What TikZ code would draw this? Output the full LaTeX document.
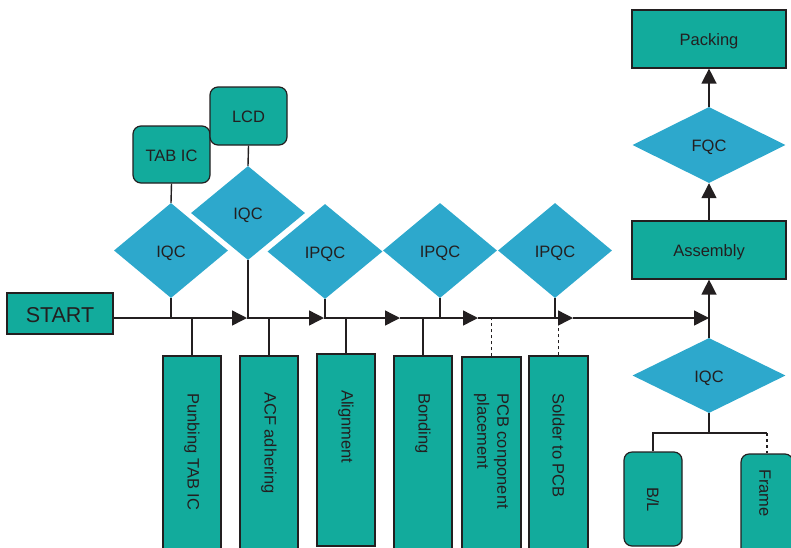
\documentclass[tikz,border=0pt]{standalone}
\usepackage{fontspec}
\setmainfont{Liberation Sans}
\usetikzlibrary{shapes.geometric,arrows.meta}
\definecolor{teal1}{RGB}{18,171,156}
\definecolor{dblue}{RGB}{45,168,204}
\definecolor{ink}{RGB}{35,31,32}
\begin{document}
\begin{tikzpicture}[x=1pt,y=-1pt,
  box/.style={draw=ink, line width=1.2pt, fill=teal1, inner sep=0pt, text=ink, font=\fontsize{16.5}{20}\selectfont, text height=13.6pt, text depth=0pt},
  rbox/.style={box, rounded corners=8pt},
  dia/.style={diamond, fill=dblue, inner sep=0pt, text=ink, font=\fontsize{16.5}{20}\selectfont, text height=13.6pt, text depth=0pt},
  ln/.style={draw=ink, line width=1.4pt},
  arr/.style={ln, -{Triangle[length=15pt,width=15pt]}},
  dsh/.style={ln, dash pattern=on 3pt off 3pt},
  vtxt/.style={rotate=-90, anchor=west, inner sep=0pt, text=ink, align=left, font=\fontsize{16.5}{20}\selectfont}
]
\useasboundingbox (0,0) rectangle (791,547);
\clip (0,0) rectangle (791,547);

% start
\node[box, minimum width=106pt, minimum height=41pt, font=\fontsize{21.5}{24}\selectfont, text height=18.4pt] (start) at (60,313.5) {START};

% top inputs
\node[rbox, minimum width=77pt, minimum height=57pt] (tabic) at (171.5,154.5) {TAB IC};
\node[rbox, minimum width=77pt, minimum height=58pt] (lcd) at (248.5,116) {LCD};

% diamonds
\node[dia, minimum width=114pt, minimum height=95pt] (iqc1) at (171,250.5) {IQC};
\node[dia, minimum width=114pt, minimum height=94pt] (iqc2) at (248,213) {IQC};
\node[dia, minimum width=115pt, minimum height=95pt] (ipqc1) at (325,251.5) {IPQC};
\node[dia, minimum width=114pt, minimum height=95pt] (ipqc2) at (440,250.5) {IPQC};
\node[dia, minimum width=114pt, minimum height=95pt] (ipqc3) at (555,250.5) {IPQC};

% right column
\node[box, minimum width=154pt, minimum height=58pt] (pack) at (709,39) {Packing};
\node[dia, minimum width=153pt, minimum height=76pt] (fqc) at (709,145) {FQC};
\node[box, minimum width=154pt, minimum height=58pt] (asm) at (709,250) {Assembly};
\node[dia, minimum width=153pt, minimum height=75pt] (iqcb) at (709,375.5) {IQC};

% bottom process boxes
\node[box, minimum width=58pt, minimum height=204pt] (p1) at (192,458) {};
\node[box, minimum width=58pt, minimum height=204pt] (p2) at (269,458) {};
\node[box, minimum width=58pt, minimum height=192pt] (p3) at (346,450) {};
\node[box, minimum width=58pt, minimum height=204pt] (p4) at (423,458) {};
\node[box, minimum width=59pt, minimum height=203pt] (p5) at (491.5,458.5) {};
\node[box, minimum width=59pt, minimum height=204pt] (p6) at (558.5,458) {};
\node[vtxt] (t1) at (192,393) {Punbing TAB IC};
\node[vtxt] (t2) at (269,392) {ACF adhering};
\node[vtxt] (t3) at (346,390) {Alignment};
\node[vtxt] (t4) at (423,393) {Bonding};
\node[vtxt] (t5) at (491.5,393) {PCB conponent\\placement};
\node[vtxt] (t6) at (558.5,393) {Solder to PCB};

% B/L and Frame
\node[rbox, minimum width=58pt, minimum height=94pt] (bl) at (653,499) {};
\node[rbox, minimum width=52pt, minimum height=106pt] (frame) at (767,507) {};
\node[vtxt] (tbl) at (653,487) {B/L};
\node[vtxt] (tfr) at (765,469) {Frame};

% main line coordinates
\coordinate (a1) at (247,318);
\coordinate (a2) at (324,318);
\coordinate (a3) at (400,318);
\coordinate (a4) at (478,318);
\coordinate (a5) at (573,318);
\coordinate (a6) at (709,318);

% connectors above
\draw[ln] (tabic.south) -- (iqc1.north);
\draw[ln] (lcd.south) -- (iqc2.north);
\draw[ln] (iqc1.south) -- (iqc1.south |- a1);
\draw[ln] (iqc2.south) -- (iqc2.south |- a1);
\draw[ln] (ipqc1.south) -- (ipqc1.south |- a1);
\draw[ln] (ipqc2.south) -- (ipqc2.south |- a1);
\draw[ln] (ipqc3.south) -- (ipqc3.south |- a1);

% connectors below
\draw[ln] (p1.north) -- (p1.north |- a1);
\draw[ln] (p2.north) -- (p2.north |- a1);
\draw[ln] (p3.north) -- (p3.north |- a1);
\draw[ln] (p4.north) -- (p4.north |- a1);
\draw[dsh] (p5.north) -- (p5.north |- a1);
\draw[dsh] (p6.north) -- (p6.north |- a1);

% main line
\draw[arr] (start.east |- a1) -- (a1);
\draw[arr] (a1) -- (a2);
\draw[arr] (a2) -- (a3);
\draw[arr] (a3) -- (a4);
\draw[arr] (a4) -- (a5);
\draw[arr] (a5) -- (a6);

% right column arrows
\draw[arr] (iqcb.north) -- (asm.south);
\draw[arr] (asm.north) -- (fqc.south);
\draw[arr] (fqc.north) -- (pack.south);

% bottom tree
\coordinate (j) at (709,433);
\draw[ln] (iqcb.south) -- (j);
\draw[ln] (bl.north) |- (j) -- (j -| frame.north);
\draw[dsh] (j -| frame.north) -- (frame.north);
\end{tikzpicture}
\end{document}
